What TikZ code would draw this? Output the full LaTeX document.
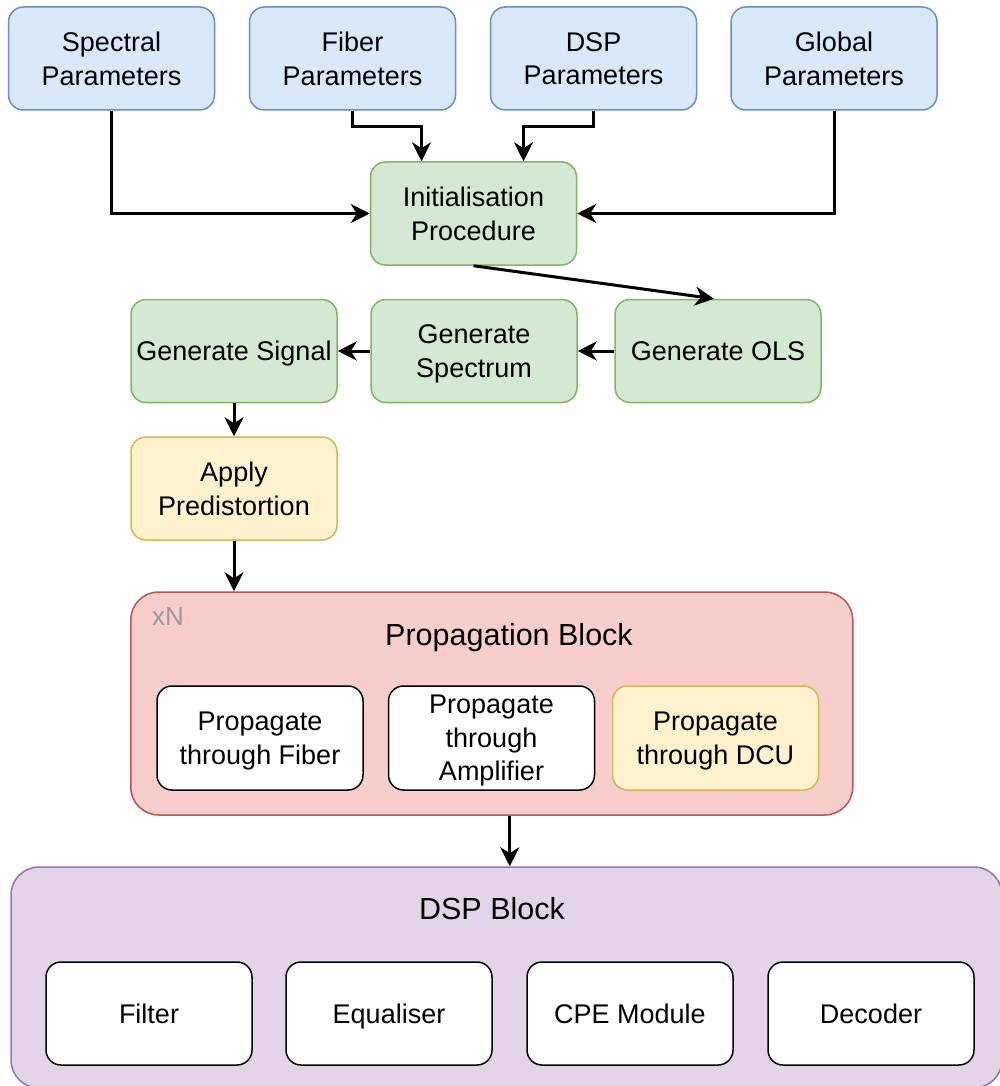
\documentclass[tikz,border=0pt]{standalone}
\usepackage{fontspec}
\setmainfont{Liberation Sans}
\usetikzlibrary{arrows.meta}
\definecolor{bfill}{HTML}{DAE8FC}\definecolor{bline}{HTML}{6C8EBF}
\definecolor{gfill}{HTML}{D5E8D4}\definecolor{gline}{HTML}{82B366}
\definecolor{yfill}{HTML}{FFF2CC}\definecolor{yline}{HTML}{D6B656}
\definecolor{rfill}{HTML}{F8CECC}\definecolor{rline}{HTML}{B85450}
\definecolor{pfill}{HTML}{E1D5E7}\definecolor{pline}{HTML}{9673A6}
\definecolor{xngray}{HTML}{999999}
\tikzset{
  box/.style={rectangle, rounded corners=15pt, line width=1.5pt, align=center,
    minimum width=206pt, minimum height=103pt, inner sep=0pt, text depth=0pt,
    font=\fontsize{27}{33.5}\selectfont},
  bluebox/.style={box, fill=bfill, draw=bline},
  greenbox/.style={box, fill=gfill, draw=gline},
  yellowbox/.style={box, fill=yfill, draw=yline},
  whitebox/.style={box, fill=white, draw=black},
  bigblock/.style={rectangle, rounded corners=28pt, line width=1.5pt, inner sep=0pt},
  title/.style={font=\fontsize{30.5}{36}\selectfont},
  conn/.style={line width=3pt, -{Stealth[length=19pt,width=19pt,inset=6pt]}},
}
\begin{document}
\begin{tikzpicture}[x=1pt,y=-1pt]
\clip (0,0) rectangle (1000,1086);
\fill[white] (0,0) rectangle (1000,1086);

% top parameter boxes
\node[bluebox] (spec) at (111.5,58.5) {Spectral\\Parameters};
\node[bluebox] (fib)  at (352.5,58.5) {Fiber\\Parameters};
\node[bluebox] (dspp) at (593.5,58.5) {DSP\\Parameters};
\node[bluebox] (glob) at (834,58.5) {Global\\Parameters};

\node[greenbox] (init) at (473.5,213.5) {Initialisation\\Procedure};

\node[greenbox] (sig) at (234,351) {Generate Signal};
\node[greenbox] (spc) at (474,351) {Generate\\Spectrum};
\node[greenbox] (ols) at (718,351) {Generate OLS};

\node[yellowbox] (apply) at (234,488.5) {Apply\\Predistortion};

% propagation block
\node[bigblock, fill=rfill, draw=rline, minimum width=722pt, minimum height=223pt] (prop) at (491.75,703.5) {};
\node[anchor=center, font=\fontsize{26}{30}\selectfont, text=xngray] (xn) at (168,617) {xN};
\node[title, anchor=base] (ptitle) at (509,645) {Propagation Block};
\node[whitebox, minimum height=104pt] (pf) at (260,738) {Propagate\\through Fiber};
\node[whitebox, minimum height=104pt] (pa) at (491.5,738) {Propagate\\through\\Amplifier};
\node[yellowbox, minimum height=104pt] (pd) at (715.5,738) {Propagate\\through DCU};

% DSP block
\node[bigblock, fill=pfill, draw=pline, minimum width=991pt, minimum height=221pt] (dspb) at (506.5,977.5) {};
\node[title, anchor=base] (dtitle) at (492,919) {DSP Block};
\node[whitebox] (filt) at (149,1013.5) {Filter};
\node[whitebox] (equ)  at (389,1013.5) {Equaliser};
\node[whitebox] (cpe)  at (630,1013.5) {CPE Module};
\node[whitebox] (dec)  at (871,1013.5) {Decoder};

% connectors
\draw[conn] (spec.south) |- (init.west);
\draw[conn] (glob.south) |- (init.east);
\draw[conn] (fib.south) -- ++(0,16) -| ([xshift=-52pt]init.north);
\draw[conn] (dspp.south) -- ++(0,16) -| ([xshift=50pt]init.north);
\draw[conn] (init.south) -- ([xshift=-4pt]ols.north);
\draw[conn] (ols.west) -- (spc.east);
\draw[conn] (spc.west) -- (sig.east);
\draw[conn] (sig.south) -- (apply.north);
\draw[conn] (apply.south) -- (apply.south |- prop.north);
\coordinate (pout) at ([xshift=18pt]prop.south);
\draw[conn] (pout) -- (pout |- dspb.north);
\end{tikzpicture}
\end{document}
